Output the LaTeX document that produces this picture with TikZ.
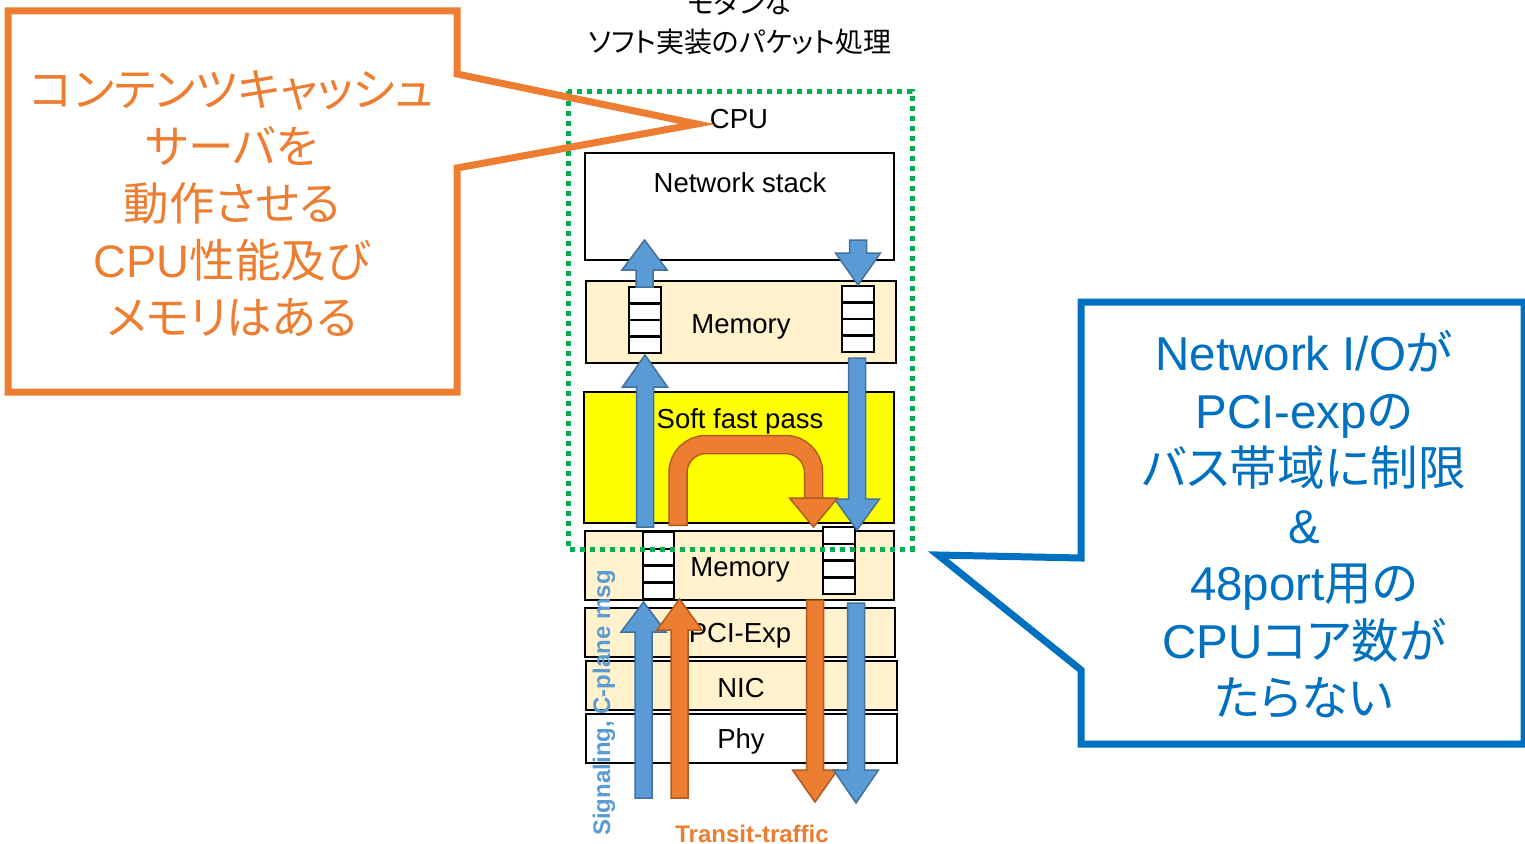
\documentclass[tikz,border=0pt]{standalone}
\usepackage{fontspec}
\setmainfont{Liberation Sans}
\newfontfamily\cjk{Noto Sans CJK JP}[RawFeature=+palt]
\newcommand\J[1]{{\cjk #1}}
\definecolor{cream}{RGB}{255,242,204}
\definecolor{ygreen}{RGB}{0,176,80}
\definecolor{corange}{RGB}{237,125,49}
\definecolor{corangedk}{RGB}{174,90,33}
\definecolor{cblue}{RGB}{91,155,213}
\definecolor{cbluedk}{RGB}{65,113,156}
\definecolor{calloutblue}{RGB}{0,112,192}
\definecolor{pureyellow}{RGB}{255,255,0}
\newcommand\blkarrow[6]{%
  \filldraw[fill=#5,draw=#6,line width=1.5pt,line join=miter]
    (#1-8.5,#2) -- (#1-8.5,#4) -- (#1-22.5,#4) -- (#1,#3) -- (#1+22.5,#4) -- (#1+8.5,#4) -- (#1+8.5,#2) -- cycle;}
\newcommand\queue[4]{%
  \draw[qbox] (#1,#2) rectangle (#3,#4);
  \foreach \k in {1,2,3}{\draw[line width=2.5pt] (#1,{#2+\k*(#4-#2)/4}) -- (#3,{#2+\k*(#4-#2)/4});}}
\begin{document}
\begin{tikzpicture}[x=1pt,y=-1pt,
  layer/.style={draw=black,line width=2.5pt,minimum width=310pt,inner sep=0pt},
  qbox/.style={draw=black,fill=white,line width=2.5pt},
  lbl/.style={font=\fontsize{27.5}{32}\selectfont,inner sep=0pt},
  callout/.style={line width=7pt,line join=miter}]
\useasboundingbox (0,0) rectangle (1525,843);

% stack boxes
\node[layer,fill=white,minimum width=309pt,minimum height=107pt] (ns) at (739.5,206.5) {};
\node[layer,fill=cream,minimum height=82pt] (mem1) at (741,322) {};
\node[layer,fill=pureyellow,minimum height=131pt] (soft) at (739,457.5) {};
\node[layer,fill=cream,minimum width=309pt,minimum height=69pt] (mem2) at (739.5,565.5) {};
\node[layer,fill=cream,minimum height=49pt] (pci) at (740,632.5) {};
\node[layer,fill=cream,minimum width=311pt,minimum height=49pt] (nic) at (741.5,685.5) {};
\node[layer,fill=white,minimum width=311pt,minimum height=49pt] (phy) at (741.5,738.5) {};

% labels
\node[lbl] (tcpu) at (739,119) {CPU};
\node[lbl] (tns) at (740,182.5) {Network stack};
\node[lbl] (tm1) at (741,326.5) {Memory};
\node[lbl] (tsoft) at (740,421.5) {Soft fast pass};
\node[lbl] (tm2) at (740,569.5) {Memory};
\node[lbl] (tpci) at (740,635.5) {PCI-Exp};
\node[lbl] (tnic) at (741,688.5) {NIC};
\node[lbl] (tphy) at (741,741.5) {Phy};

% queues
\queue{629}{287}{661}{353}
\queue{842}{286}{874}{352}
\queue{643}{532}{674}{599}
\queue{823}{527}{855}{594}

% arrows
\blkarrow{644.5}{287}{240}{270}{cblue}{cbluedk}
\blkarrow{858}{240}{285}{253}{cblue}{cbluedk}
\blkarrow{645}{527}{355}{387}{cblue}{cbluedk}
\blkarrow{857}{358}{530}{499}{cblue}{cbluedk}
\draw[corangedk,line width=19.5pt,rounded corners=28pt] (678,526) -- (678,444.5) -- (813.5,444.5) -- (813.5,498);
\draw[corange,line width=16.5pt,rounded corners=28pt] (678,524.5) -- (678,444.5) -- (813.5,444.5) -- (813.5,499);
\filldraw[fill=corange,draw=corangedk,line width=1.5pt,line join=miter] (789.5,498) -- (837.5,498) -- (813.5,527) -- cycle;
\blkarrow{643.5}{798}{602}{632}{cblue}{cbluedk}
\blkarrow{679.5}{798}{599}{630}{corange}{corangedk}
\blkarrow{815}{600}{802}{770}{corange}{corangedk}
\blkarrow{856}{603}{803}{770}{cblue}{cbluedk}

% CPU region
\draw[ygreen,line width=5pt,dash pattern=on 5pt off 5pt] (568,91) rectangle (912,549);

% side labels
\node[font=\bfseries\fontsize{24}{28}\selectfont,text=cblue,rotate=90,inner sep=0pt] (sig) at (604,703) {Signaling, C-plane msg};
\node[font=\bfseries\fontsize{24}{28}\selectfont,text=corange,inner sep=0pt] (transit) at (752,834) {Transit-traffic};

% title
\node[font=\fontsize{28}{39}\selectfont,align=center,inner sep=0pt] (title) at (740,22.5) {\J{モダンな}\\\J{ソフト実装のパケット処理}};

% orange callout
\draw[corange,callout] (8,11) -- (457,11) -- (457,74) -- (697,124) -- (457,168) -- (457,392) -- (8,392) -- cycle;
\node[font=\fontsize{45.5}{57}\selectfont,text=corange,align=center,inner sep=0pt] (otext) at (232,204)
  {\J{コンテンツキャッシュ}\\\J{サーバを}\\\J{動作させる}\\CPU\J{性能及び}\\\J{メモリはある}};

% blue callout
\draw[calloutblue,callout] (1081,302) -- (1524,302) -- (1524,744) -- (1081,744) -- (1081,670) -- (938,555) -- (1081,558) -- cycle;
\node[font=\fontsize{47.5}{57.5}\selectfont,text=calloutblue,align=center,inner sep=0pt] (btext) at (1304,524.5)
  {Network I/O\J{が}\\PCI-exp\J{の}\\\J{バス帯域に制限}\\\&\\48port\J{用の}\\CPU\J{コア数が}\\\J{たらない}};
\end{tikzpicture}
\end{document}
